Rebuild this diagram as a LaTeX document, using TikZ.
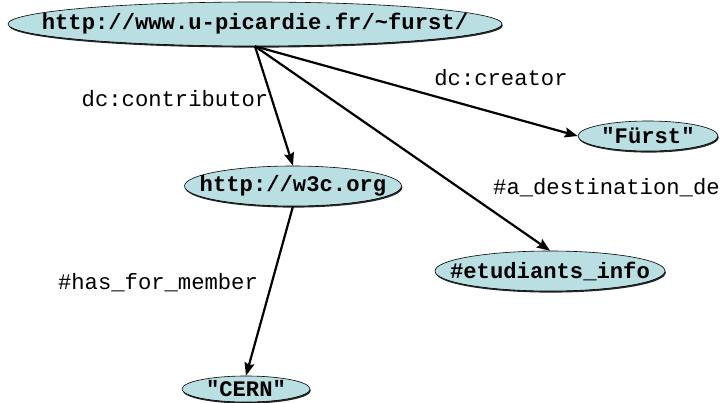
\documentclass[tikz,border=0pt]{standalone}
\usepackage{fontspec}
\setmonofont{Liberation Mono}
\usetikzlibrary{shapes.geometric,arrows.meta,shadows}
\definecolor{nodefill}{RGB}{185,223,226}
\newcommand{\zw}[1]{\makebox[0pt]{#1}}
\tikzset{
  res/.style={ellipse, fill=nodefill, draw=black, line width=0.6pt, inner sep=0pt,
    font=\ttfamily\bfseries\fontsize{22.2}{24}\selectfont,
    drop shadow={shadow xshift=0.8pt, shadow yshift=-1.6pt, fill=black!85, opacity=1}},
  lbl/.style={font=\ttfamily\fontsize{22.2}{24}\selectfont, inner sep=0pt},
  rel/.style={line width=2.2pt, -{Stealth[length=13pt,width=10pt,inset=2pt]}}
}
\begin{document}
\begin{tikzpicture}[x=1pt,y=-1pt]
\useasboundingbox (0,0) rectangle (721,403);
\node[res, minimum width=494pt, minimum height=44pt] (top) at (255,24) {\zw{http://www.u-picardie.fr/\string~furst/}};
\node[res, minimum width=140pt, minimum height=30pt] (furst) at (648,136) {\zw{"Fürst"}};
\node[res, minimum width=217pt, minimum height=40pt] (w3c) at (293,186) {\zw{http://w3c.org}};
\node[res, minimum width=230pt, minimum height=40pt] (etud) at (550,271) {\zw{\#etudiants\_info}};
\node[res, minimum width=128pt, minimum height=26pt] (cern) at (246,389) {\zw{"CERN"}};
\coordinate (src) at (top.south);
\draw[rel] (src) -- (furst.west);
\draw[rel] (src) -- (w3c.north);
\draw[rel] (src) -- (etud.north);
\draw[rel] (w3c.south) -- (cern.north);
\node[lbl] (l1) at (175,99) {dc:contributor};
\node[lbl] (l2) at (501,78) {dc:creator};
\node[lbl, anchor=west] (l3) at (493,188) {\#a\_destination\_de};
\node[lbl] (l4) at (158,283) {\#has\_for\_member};
\end{tikzpicture}
\end{document}
